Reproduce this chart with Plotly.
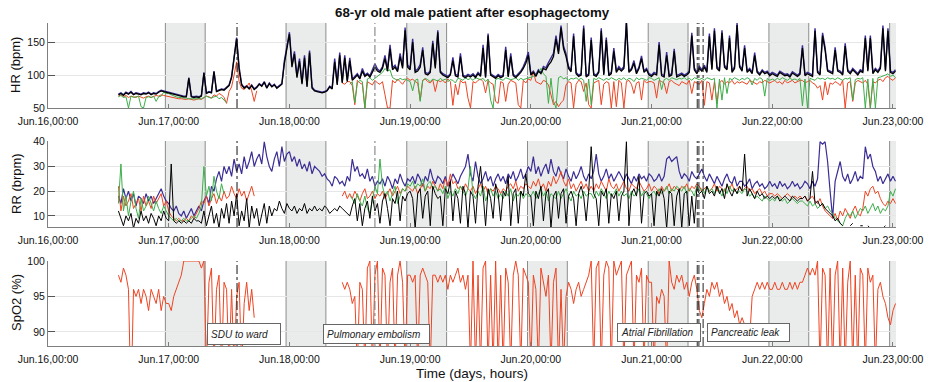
import pandas as pd
import plotly.graph_objects as go

N = None

# ---------------- time base (30-min samples, Jun.16 14:00 -> Jun.23 00:30) ----------------
times = pd.date_range("2016-06-16 14:00", periods=310, freq="30min")

day_ticks = pd.date_range("2016-06-16", "2016-06-23", freq="D")

# ---------------- HR (bpm) ----------------
hr_black = [
    70,72,69,73,71,74,70,72,71,70,72,71,
    73,70,72,71,74,76,75,74,
    73,71,70,69,68,68,67,67,95,67,66,67,
    66,68,103,72,74,73,105,75,76,78,77,80,
    84,96,122,155,108,85,80,83,79,84,78,81,
    86,83,89,80,87,82,85,80,83,86,118,142,
    162,112,132,96,121,86,126,82,134,80,76,75,
    74,73,74,76,82,79,120,85,130,88,126,90,
    122,92,96,100,94,106,98,101,97,104,112,106,
    104,110,125,106,140,108,112,105,128,110,168,112,
    108,150,104,106,112,138,102,100,104,148,110,165,
    104,100,98,96,100,122,99,97,128,98,96,99,
    97,100,96,102,98,141,96,160,100,98,95,99,
    96,98,138,97,128,99,96,100,104,110,118,130,
    100,104,98,106,102,110,108,115,120,128,155,132,
    172,140,128,110,105,159,102,98,100,171,97,100,
    153,100,98,104,167,100,153,99,102,136,104,110,
    106,110,179,104,108,118,102,110,125,104,108,100,
    98,102,100,146,99,97,130,98,100,136,97,99,
    101,98,100,104,160,108,102,110,106,112,104,159,
    108,167,110,106,164,112,108,156,104,110,176,112,
    106,141,104,108,102,130,104,100,106,102,104,99,
    102,100,98,104,101,99,100,97,103,100,98,101,
    141,99,102,100,98,167,104,100,160,138,106,104,
    102,138,106,104,100,144,106,102,108,104,100,106,
    104,156,106,156,102,108,104,110,171,106,167,104,
    102,106,
]
hr_blue = [
    71,73,70,74,72,75,71,73,72,71,73,72,
    74,71,73,72,75,77,76,75,
    74,72,71,70,69,69,68,68,96,68,67,68,
    67,69,104,73,75,74,106,76,77,79,78,81,
    85,98,126,157,112,86,81,84,80,85,79,82,
    87,84,90,81,88,83,86,81,84,87,122,146,
    165,116,136,98,125,88,130,84,137,82,77,76,
    75,74,75,77,83,81,125,87,134,90,130,92,
    126,94,98,102,96,110,100,103,99,107,117,109,
    106,113,130,108,146,111,115,107,133,113,172,115,
    111,155,106,109,116,142,104,102,106,152,113,168,
    106,102,100,98,102,127,101,99,133,100,98,101,
    99,102,98,104,100,146,98,163,102,100,97,101,
    98,100,143,99,133,101,98,102,106,113,122,135,
    102,106,100,108,104,113,111,119,125,133,160,136,
    175,144,132,113,107,163,104,100,102,175,99,102,
    157,102,100,106,171,102,157,101,104,141,106,113,
    108,113,182,106,110,122,104,112,129,106,110,102,
    100,104,102,150,101,99,135,100,102,140,99,101,
    103,100,102,106,164,111,104,113,108,115,106,163,
    110,171,113,108,168,115,110,160,106,113,179,115,
    108,145,106,110,104,134,106,102,108,104,106,101,
    104,102,100,106,103,101,102,99,105,102,100,103,
    145,101,104,102,100,171,106,102,164,142,108,106,
    104,142,108,106,102,148,108,104,110,106,102,108,
    106,160,108,160,104,110,106,113,175,108,171,106,
    104,108,
]
hr_red = [
    68,70,67,69,66,68,67,66,68,67,65,67,
    68,66,67,69,68,70,69,68,
    67,66,66,65,64,64,63,63,64,63,62,63,
    64,63,66,68,67,65,70,68,72,70,66,57,
    75,82,100,120,90,80,78,82,88,76,60,76,
    N,N,N,N,N,N,N,N,N,N,N,N,
    N,N,N,N,N,N,N,N,N,N,N,N,
    N,N,N,N,N,N,N,N,N,88,86,90,
    90,84,55,92,88,86,50,90,88,85,92,88,
    86,90,70,50,50,92,88,94,90,86,92,95,
    92,94,90,88,62,92,94,90,88,93,75,92,
    90,92,88,94,90,54,86,70,92,88,90,65,
    50,90,88,92,94,90,73,92,88,86,60,57,
    90,88,60,86,92,90,88,55,50,92,88,94,
    92,105,90,88,86,92,90,85,70,55,60,52,
    58,62,85,90,88,50,86,92,90,75,88,55,
    50,88,90,92,55,86,90,88,50,90,52,92,
    88,50,90,92,86,72,88,90,62,92,88,90,
    90,88,65,92,90,88,72,90,92,88,86,84,
    90,88,86,92,72,90,88,86,92,54,90,88,
    62,90,57,88,92,86,90,88,92,86,90,88,
    90,88,86,92,90,88,86,90,88,92,90,88,
    90,92,88,90,86,92,88,90,92,88,90,92,
    92,88,90,92,88,86,80,84,62,90,70,88,
    86,90,88,84,92,50,88,90,60,88,92,90,
    88,92,86,50,90,88,92,94,90,96,98,94,
    92,96,
]
hr_green = [
    67,69,66,67,50,68,66,67,68,52,50,66,
    67,66,68,60,67,68,74,72,
    72,70,68,67,66,66,65,65,64,64,65,64,
    65,64,66,68,66,65,67,68,64,66,62,58,
    N,N,N,N,N,N,N,N,N,N,N,N,
    N,N,N,N,N,N,N,N,N,N,N,N,
    N,N,N,N,N,N,N,N,N,N,N,N,
    N,N,N,N,N,N,N,N,N,N,N,N,
    86,90,58,88,92,90,50,94,96,92,95,98,
    100,104,110,106,108,96,94,92,95,93,94,92,
    90,76,92,94,60,92,95,93,90,94,92,91,
    95,92,94,90,93,92,88,95,94,92,96,93,
    95,92,96,94,93,95,90,94,62,50,93,95,
    94,92,96,95,93,94,96,92,95,93,94,96,
    96,98,100,104,110,102,98,57,95,60,50,96,
    98,94,96,92,95,94,96,93,95,92,60,94,
    55,95,93,96,94,92,95,93,96,94,92,95,
    93,96,92,95,94,90,96,93,95,94,92,96,
    95,92,94,96,78,93,95,92,96,94,93,95,
    94,96,93,95,92,96,94,93,95,92,96,94,
    93,95,50,94,62,96,72,95,93,96,94,92,
    95,93,96,94,85,95,92,96,94,68,95,92,
    94,92,95,93,96,94,92,95,93,94,92,95,
    53,94,50,95,94,92,96,94,95,93,96,94,
    95,93,96,94,92,95,94,96,62,93,95,94,
    96,50,94,50,95,50,96,97,98,100,102,98,
    100,96,
]

# ---------------- RR (brpm) ----------------
rr_blue = [
    18,15,21,17,20,16,19,14,18,17,15,19,
    16,18,15,17,19,21,18,16,
    15,13,12,14,11,10,12,9,11,13,10,12,
    14,12,16,18,15,22,20,25,28,24,30,27,
    30,26,33,28,31,27,34,29,32,36,30,33,
    35,31,40,34,30,28,33,36,30,38,32,35,
    36,32,34,30,33,29,31,28,32,27,30,29,
    28,26,27,25,24,22,26,25,23,24,22,26,
    24,33,28,30,26,27,25,29,24,26,22,24,
    23,25,22,26,24,21,25,23,27,24,22,25,
    24,26,23,27,25,22,26,24,29,25,23,26,
    25,23,26,22,24,27,25,23,26,28,30,35,
    27,24,32,26,23,25,28,24,26,22,25,27,
    24,26,23,27,25,28,24,26,29,25,27,30,
    28,34,27,30,26,29,31,27,33,28,26,30,
    27,25,29,26,24,28,25,27,30,26,24,27,
    25,28,35,27,24,26,29,25,27,24,26,28,
    26,24,27,25,23,26,24,27,25,26,24,27,
    26,24,25,27,24,26,33,34,32,33,34,28,
    25,27,26,24,28,26,25,27,29,26,24,27,
    25,23,26,24,22,25,27,24,23,26,22,24,
    24,22,23,25,21,23,24,22,23,21,22,24,
    22,23,21,24,22,23,21,22,24,22,23,21,
    22,24,23,21,24,22,25,40,39,40,32,20,
    9,24,28,32,26,24,27,23,25,28,24,26,
    25,38,33,35,30,28,24,26,23,25,27,24,
    26,24,
]
rr_red = [
    22,12,18,14,16,19,13,15,17,12,18,14,
    16,13,18,15,17,19,14,16,
    12,10,9,8,9,8,8,9,8,10,9,11,
    13,16,15,18,14,17,19,15,18,16,20,17,
    18,22,19,17,21,18,20,16,19,22,18,N,
    N,N,N,N,N,N,N,N,N,N,N,N,
    N,N,N,N,N,N,N,N,N,N,N,N,
    N,N,N,N,N,N,N,N,N,18,20,17,
    19,17,20,18,16,19,21,17,18,20,17,19,
    18,20,17,19,21,18,20,22,19,21,20,22,
    21,20,22,19,21,23,20,22,21,24,22,20,
    23,21,25,22,27,23,24,21,22,20,23,21,
    20,22,19,21,23,20,22,19,21,20,22,21,
    19,21,20,22,23,21,24,20,22,21,23,22,
    21,24,22,25,21,23,20,24,22,26,23,25,
    28,24,22,25,21,23,20,22,24,21,23,20,
    22,20,23,21,24,22,20,25,22,21,23,20,
    22,24,21,20,23,22,21,24,22,20,21,23,
    20,22,21,19,22,20,21,23,20,22,21,20,
    22,21,23,20,22,21,23,22,20,21,22,20,
    21,23,20,22,21,20,22,21,23,20,21,22,
    20,21,22,20,21,19,20,21,19,20,18,19,
    19,18,19,18,17,18,19,18,17,18,17,18,
    17,18,16,17,18,16,15,17,14,12,11,10,
    9,11,8,12,10,13,11,9,12,14,11,10,
    13,20,18,21,22,19,20,17,15,14,16,15,
    17,15,
]
rr_green = [
    15,31,12,18,10,16,20,13,9,17,12,14,
    18,15,12,16,13,11,14,12,
    10,9,8,9,8,8,9,8,8,9,10,9,
    11,14,30,18,22,16,26,20,17,23,19,N,
    N,N,N,N,N,N,N,N,N,N,N,N,
    N,N,N,N,N,N,N,N,N,N,N,N,
    N,N,N,N,N,N,N,N,N,N,N,N,
    N,N,N,N,N,N,N,N,N,N,N,N,
    18,17,15,19,16,14,18,13,11,17,22,19,
    33,22,18,20,16,19,22,15,18,21,20,23,
    22,24,21,23,22,25,20,23,24,21,22,20,
    21,19,22,17,20,18,21,19,22,20,18,21,
    30,19,17,20,18,22,16,19,21,18,20,17,
    19,17,20,18,21,16,19,18,20,17,19,18,
    18,20,17,19,21,18,20,16,19,18,17,20,
    17,19,21,18,16,20,18,19,17,20,18,19,
    19,17,20,18,21,19,17,20,18,19,21,18,
    20,18,19,17,20,18,19,21,18,20,19,17,
    19,20,18,21,19,20,22,19,21,20,22,21,
    20,22,19,21,20,18,22,20,21,19,22,20,
    21,19,22,20,18,21,19,22,20,21,19,20,
    19,21,20,18,19,17,18,17,16,18,17,16,
    17,16,18,17,16,17,15,16,17,16,15,16,
    16,15,14,16,14,15,13,14,15,13,14,12,
    11,9,8,7,6,9,11,10,12,9,11,13,
    12,14,11,13,15,12,14,11,13,12,14,20,
    18,21,
]
rr_black = [
    12,9,6,10,8,11,5,9,7,12,8,10,
    7,11,9,6,10,8,12,9,
    8,31,8,7,8,7,8,7,8,7,9,8,
    8,7,12,6,10,14,7,11,5,13,9,15,
    7,16,10,19,6,12,8,17,5,14,9,13,
    6,11,15,7,14,10,13,12,16,13,11,15,
    13,12,14,11,13,12,15,11,13,12,14,12,
    13,12,14,13,11,12,13,12,14,13,12,11,
    10,14,17,8,15,6,13,16,9,18,12,15,
    7,16,19,13,6,17,15,20,8,18,16,19,
    20,17,5,19,21,9,18,20,6,22,19,17,
    18,6,21,19,24,8,20,17,7,22,19,5,
    20,18,7,22,30,19,6,21,17,9,23,19,
    8,20,18,26,6,19,21,7,20,18,27,19,
    18,6,20,17,22,8,19,21,5,18,20,9,
    19,21,7,18,20,17,6,19,22,18,8,20,
    38,19,17,6,20,18,21,7,19,17,20,8,
    18,20,40,6,19,21,18,26,7,19,20,18,
    19,6,20,18,21,17,5,20,19,6,18,21,
    5,19,20,6,18,7,21,19,20,17,22,19,
    20,18,22,19,21,17,23,20,18,21,19,22,
    20,35,18,21,19,17,20,18,19,17,18,17,
    18,17,18,16,17,18,17,16,18,17,16,17,
    17,18,16,17,28,15,16,14,15,13,12,11,
    10,8,9,7,6,N,N,6,7,N,N,6,
    6,N,6,5,N,N,N,N,5,6,N,N,
    N,N,
]

# ---------------- SpO2 (%) ----------------
spo2 = [
    98,97,99,98,96,80,96,95,96,94,96,95,
    93,96,95,94,96,93,95,94,
    94,93,95,96,97,98,100,100,100,100,100,100,
    100,99,100,85,97,99,85,96,98,85,97,96,
    85,96,85,95,97,85,94,97,93,96,92,N,
    N,N,N,N,N,N,N,N,N,N,N,N,
    N,N,N,N,N,N,N,N,N,N,N,N,
    N,N,N,N,N,N,N,N,N,97,96,97,
    96,94,95,85,97,96,85,99,100,85,98,100,
    85,99,98,85,97,99,85,98,100,97,85,98,
    98,97,98,85,98,99,98,97,85,98,98,97,
    98,97,98,96,98,97,98,99,97,98,96,98,
    85,100,85,98,85,99,100,85,98,85,100,85,
    98,85,99,97,85,98,100,98,85,99,98,97,
    85,98,96,85,99,97,95,98,85,97,99,85,
    96,85,95,97,96,94,96,97,95,96,97,98,
    100,85,99,100,85,98,100,99,85,100,98,99,
    100,85,98,99,100,85,98,97,99,85,98,97,
    97,85,95,94,96,95,85,100,97,96,98,97,
    98,96,97,95,97,98,96,93,92,94,96,95,
    97,96,97,95,96,94,95,93,94,92,93,91,
    92,91,90,89,95,96,97,96,97,96,97,96,
    96,97,96,96,97,96,96,97,96,97,96,97,
    97,98,99,98,99,98,100,85,99,98,85,99,
    85,98,100,85,99,85,97,100,85,98,85,99,
    98,85,99,97,98,85,96,97,95,94,92,91,
    93,94,
]

nights = ["2016-06-16", "2016-06-17", "2016-06-18", "2016-06-19",
          "2016-06-20", "2016-06-21", "2016-06-22"]
events = [("2016-06-17 13:35", "#111111"), ("2016-06-18 17:00", "#777777"),
          ("2016-06-21 09:05", "#222222"), ("2016-06-21 09:25", "#222222"),
          ("2016-06-21 10:15", "#222222")]
notes = [("SDU to ward", 207, 281, 323, 345),
         ("Pulmonary embolism", 323, 430, 324, 344),
         ("Atrial Fibrillation", 617, 701, 323, 342),
         ("Pancreatic leak", 707, 790, 323, 342)]

for name, arr in [("hr_black", hr_black), ("hr_blue", hr_blue), ("hr_red", hr_red),
                  ("hr_green", hr_green), ("rr_blue", rr_blue), ("rr_red", rr_red),
                  ("rr_green", rr_green), ("rr_black", rr_black), ("spo2", spo2)]:
    assert len(arr) == len(times), (name, len(arr))

RED, BLUE, GREEN, BLACK = "#EE4422", "#3A2E95", "#3DAE4A", "#000000"
FONT = "Liberation Sans, Arial, sans-serif"

fig = go.Figure()

def add(y, color, ax, w=1):
    fig.add_trace(go.Scatter(x=times, y=y, mode="lines",
                             line=dict(color=color, width=w),
                             xaxis="x" if ax == 1 else f"x{ax}",
                             yaxis="y" if ax == 1 else f"y{ax}",
                             showlegend=False, hoverinfo="skip"))

add(hr_blue, BLUE, 1, 1.4); add(hr_red, RED, 1); add(hr_green, GREEN, 1); add(hr_black, BLACK, 1, 1.3)
add(rr_blue, BLUE, 2, 1.2); add(rr_red, RED, 2); add(rr_green, GREEN, 2); add(rr_black, BLACK, 2)
add(spo2, RED, 3)

# layout geometry (pixels)
L, R, T, B = 48, 896, 23, 346
W, H = R - L, B - T
def px(x): return (x - L) / W
def py(y): return (B - y) / H

xrange_ = ["2016-06-16 00:00", "2016-06-23 00:36"]
xend = pd.Timestamp(xrange_[1])

shapes = []
for k in (1, 2, 3):
    xr = "x" if k == 1 else f"x{k}"
    yr = "y domain" if k == 1 else f"y{k} domain"
    for d in nights:
        s = pd.Timestamp(d + " 23:20")
        e = min(s + pd.Timedelta(hours=7, minutes=55), xend)
        shapes.append(dict(type="rect", xref=xr, yref=yr, x0=s, x1=e, y0=0, y1=1,
                           fillcolor="#EAECEB", line=dict(width=0), layer="below"))
        for xx in (s, e):
            if xx < xend:
                shapes.append(dict(type="line", xref=xr, yref=yr, x0=xx, x1=xx, y0=0, y1=1,
                                   line=dict(color="#8C8C8C", width=1), layer="below"))
    for t, c in events:
        shapes.append(dict(type="line", xref=xr, yref=yr, x0=t, x1=t, y0=0, y1=1,
                           line=dict(color=c, width=1, dash="dashdot"), layer="above"))

annotations = [
    dict(text="<b>68-yr old male patient after esophagectomy</b>", x=px(472), y=py(12),
         xref="paper", yref="paper", xanchor="center", yanchor="middle", showarrow=False,
         font=dict(family=FONT, size=13.3, color="#111")),
    dict(text="Time (days, hours)", x=px(472), y=py(373), xref="paper", yref="paper",
         xanchor="center", yanchor="middle", showarrow=False,
         font=dict(family=FONT, size=13.5, color="#111")),
]
for txt, yc in [("HR (bpm)", 65), ("RR (brpm)", 184), ("SpO2 (%)", 303)]:
    annotations.append(dict(text=txt, x=px(16), y=py(yc), xref="paper", yref="paper",
                            xanchor="center", yanchor="middle", showarrow=False, textangle=-90,
                            font=dict(family=FONT, size=13, color="#111")))
for txt, x0, x1, y0, y1 in notes:
    annotations.append(dict(text="<i>" + txt + "</i>", x=px((x0 + x1) / 2), y=py((y0 + y1) / 2),
                            xref="paper", yref="paper", xanchor="center", yanchor="middle",
                            showarrow=False,
                            width=x1 - x0 - 8, height=y1 - y0 - 8, align="left",
                            borderpad=3, bordercolor="#666", borderwidth=1, bgcolor="white",
                            font=dict(family=FONT, size=10, color="#222")))

def xax(anchor):
    return dict(type="date", range=xrange_, tickvals=day_ticks, tickformat="%b.%d,%H:%M",
                showgrid=False, showline=True, linecolor="#7F7F7F", linewidth=1,
                ticks="inside", ticklen=4, tickcolor="#7F7F7F", anchor=anchor,
                ticklabelstandoff=3,
                tickfont=dict(family=FONT, size=10.5, color="#111"), zeroline=False)

def yax(rng, tv, dom, anchor):
    return dict(range=rng, tickvals=tv, domain=dom, anchor=anchor, showgrid=True,
                gridcolor="#E6E6E6", gridwidth=1, showline=True, linecolor="#7F7F7F",
                linewidth=1, ticks="inside", ticklen=7, tickcolor="#555", zeroline=False,
                tickfont=dict(family=FONT, size=10.5, color="#111"))

fig.update_layout(
    width=936, height=382, margin=dict(l=L, r=936 - R, t=T, b=382 - B),
    paper_bgcolor="white", plot_bgcolor="white",
    xaxis=xax("y"), xaxis2=xax("y2"), xaxis3=xax("y3"),
    yaxis=yax([50, 179], [50, 100, 150], [py(108), 1], "x"),
    yaxis2=yax([5.5, 40.3], [10, 20, 30, 40], [py(227), py(141)], "x2"),
    yaxis3=yax([88, 100], [90, 95, 100], [0, py(261)], "x3"),
    shapes=shapes, annotations=annotations, showlegend=False,
)

fig.write_html("out.html")
